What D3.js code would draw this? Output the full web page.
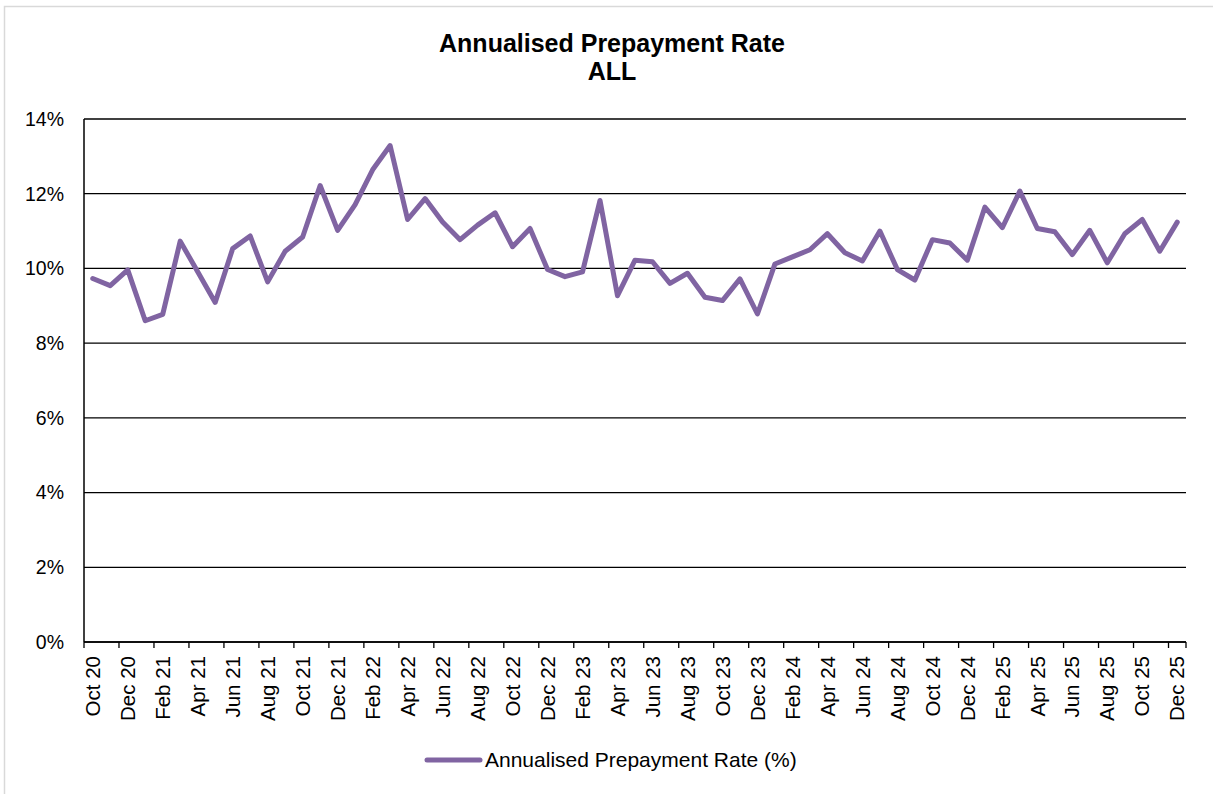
<!DOCTYPE html>
<html>
<head>
<meta charset="utf-8">
<script src="https://cdn.jsdelivr.net/npm/d3@7"></script>
<style>
html,body{margin:0;padding:0;background:#fff;}
text{font-family:"Liberation Sans",Arial,sans-serif;}
</style>
</head>
<body>
<svg id="chart" width="1213" height="794"></svg>
<script>
const months = ["Oct 20","Nov 20","Dec 20","Jan 21","Feb 21","Mar 21","Apr 21","May 21","Jun 21","Jul 21","Aug 21","Sep 21",
"Oct 21","Nov 21","Dec 21","Jan 22","Feb 22","Mar 22","Apr 22","May 22","Jun 22","Jul 22","Aug 22","Sep 22",
"Oct 22","Nov 22","Dec 22","Jan 23","Feb 23","Mar 23","Apr 23","May 23","Jun 23","Jul 23","Aug 23","Sep 23",
"Oct 23","Nov 23","Dec 23","Jan 24","Feb 24","Mar 24","Apr 24","May 24","Jun 24","Jul 24","Aug 24","Sep 24",
"Oct 24","Nov 24","Dec 24","Jan 25","Feb 25","Mar 25","Apr 25","May 25","Jun 25","Jul 25","Aug 25","Sep 25",
"Oct 25","Nov 25","Dec 25"];
const prepaymentRate = [9.73,9.54,9.96,8.60,8.77,10.73,9.91,9.09,10.53,10.87,9.64,10.46,
10.84,12.22,11.02,11.71,12.64,13.29,11.31,11.87,11.24,10.77,11.16,11.49,
10.58,11.07,9.97,9.78,9.91,11.82,9.27,10.22,10.18,9.60,9.87,9.23,
9.14,9.72,8.78,10.12,10.31,10.50,10.93,10.42,10.20,11.00,9.97,9.69,
10.77,10.68,10.22,11.64,11.09,12.07,11.07,10.98,10.37,11.02,10.15,10.93,
11.31,10.46,11.24];
const yTicks = [0,2,4,6,8,10,12,14];
const titleLines = ["Annualised Prepayment Rate","ALL"];
const seriesName = "Annualised Prepayment Rate (%)";

const svg = d3.select("#chart");
const W = 1213, H = 794;
const m = {left:84, right:1186, top:119, bottom:642};
const purple = "#8064A2";

// outer border
svg.append("rect").attr("x",4.5).attr("y",6.5).attr("width",W+10).attr("height",H+10)
  .attr("fill","#fff").attr("stroke","#d9d9d9").attr("stroke-width",1.5);

const x = d3.scaleBand().domain(months).range([m.left,m.right]).padding(0);
const y = d3.scaleLinear().domain([0,14]).range([m.bottom,m.top]);

// gridlines
svg.append("g").selectAll("line").data(yTicks).join("line")
  .attr("x1",m.left).attr("x2",m.right)
  .attr("y1",d=>y(d)).attr("y2",d=>y(d))
  .attr("stroke","#000").attr("stroke-width",1.3);

// y axis labels
svg.append("g").selectAll("text").data(yTicks).join("text")
  .attr("x",64).attr("y",d=>y(d)).attr("dy","0.35em")
  .attr("text-anchor","end").attr("font-size",19.5).attr("fill","#000")
  .text(d=>d+"%");

// y axis line
svg.append("line").attr("x1",m.left).attr("x2",m.left).attr("y1",m.top).attr("y2",m.bottom)
  .attr("stroke","#000").attr("stroke-width",1.5);

// x axis
const xAxis = d3.axisBottom(x)
  .tickValues(months.filter((d,i)=>i%2===0))
  .tickSize(0).tickPadding(0);
const gx = svg.append("g").attr("transform",`translate(0,${m.bottom})`).call(xAxis);
gx.select(".domain").attr("stroke","#000").attr("stroke-width",1.5).attr("d",`M${m.left},0H${m.right}`);
gx.selectAll(".tick line").remove();
gx.selectAll(".tick text")
  .attr("font-size",20.5).attr("fill","#000")
  .attr("font-family","Liberation Sans, Arial, sans-serif")
  .attr("transform","rotate(-90)")
  .attr("text-anchor","end")
  .attr("x",-14).attr("y",0).attr("dy","0.35em");
// tick marks at category boundaries every 2 months
const tickPos = months.map((d,i)=>i).filter(i=>i%2===0).map(i=>x(months[i]));
tickPos.push(m.right);
svg.append("g").selectAll("line").data(tickPos).join("line")
  .attr("x1",d=>d).attr("x2",d=>d).attr("y1",m.bottom).attr("y2",m.bottom+6)
  .attr("stroke","#000").attr("stroke-width",1.3);

// line
const line = d3.line().x((d,i)=>x(months[i])+x.bandwidth()/2).y(d=>y(d));
svg.append("path").datum(prepaymentRate).attr("d",line)
  .attr("fill","none").attr("stroke",purple).attr("stroke-width",5)
  .attr("stroke-linejoin","round").attr("stroke-linecap","round");

// title
svg.append("g").selectAll("text").data(titleLines).join("text")
  .attr("x",612).attr("y",(d,i)=>52+i*28)
  .attr("text-anchor","middle").attr("font-size",25).attr("font-weight","bold").attr("fill","#000")
  .text(d=>d);

// legend
svg.append("line").attr("x1",427).attr("x2",480).attr("y1",760).attr("y2",760)
  .attr("stroke",purple).attr("stroke-width",5).attr("stroke-linecap","round");
svg.append("text").attr("x",485).attr("y",760).attr("dy","0.35em")
  .attr("font-size",21).attr("fill","#000").text(seriesName);
</script>
</body>
</html>
